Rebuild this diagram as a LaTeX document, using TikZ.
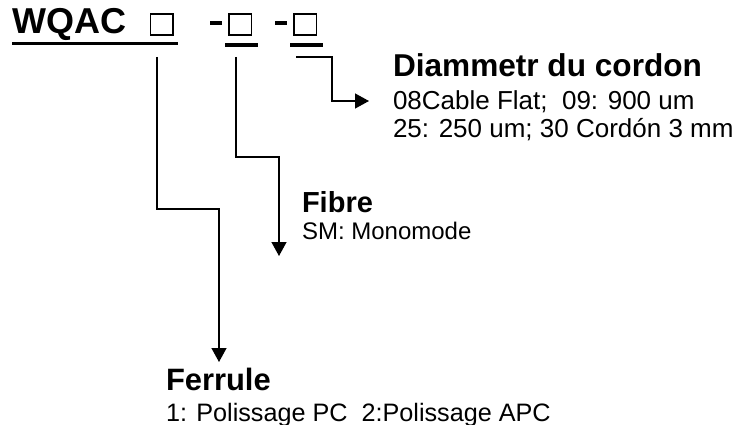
\documentclass[tikz,border=0pt]{standalone}
\usepackage{fontspec}
\setmainfont{Liberation Sans}
\usetikzlibrary{arrows.meta}
\begin{document}
\begin{tikzpicture}[x=1pt,y=-1pt,
  txt/.style={anchor=base west,inner sep=0pt,outer sep=0pt},
  head/.style={txt,font=\fontsize{#1}{36}\selectfont\bfseries},
  body/.style={txt,font=\fontsize{#1}{30}\selectfont},
  title/.style={txt,font=\fontsize{36}{40}\selectfont\bfseries},
  codebox/.style={draw,line width=1.5pt,minimum width=22.5pt,minimum height=21pt,inner sep=0pt},
  bar/.style={line width=3.5pt},
  uline/.style={line width=3.5pt},
  conn/.style={line width=1.3pt},
  tip/.style={-{Triangle[width=15pt,length=14pt]}}]
\useasboundingbox (0,0) rectangle (753,425);
% code
\node[title] (wqac) at (12.5,34) {WQAC};
\node[codebox] (b1) at (161.5,24.5) {};
\node[codebox] (b2) at (240,24.5) {};
\node[codebox] (b3) at (305,24.5) {};
\coordinate (d1a) at (210,23); \coordinate (d1b) at (222,23);
\coordinate (d2a) at (275,23); \coordinate (d2b) at (287,23);
\draw[bar] (d1a) -- (d1b);
\draw[bar] (d2a) -- (d2b);
\coordinate (u1a) at (12,43.5); \coordinate (u1b) at (178,43.5);
\coordinate (u2a) at (225,45); \coordinate (u2b) at (258,45);
\coordinate (u3a) at (290,45); \coordinate (u3b) at (323,45);
\draw[uline] (u1a) -- (u1b);
\draw[uline] (u2a) -- (u2b);
\draw[uline] (u3a) -- (u3b);
% labels
\node[head=31.6] (diam) at (393,77) {Diammetr du cordon};
\node[body=26] (diam1) at (393,110) {08Cable Flat;\ \ 09: 900 um};
\node[body=26] (diam2) at (393,138) {25: 250 um; 30 Cordón 3 mm};
\node[head=29] (fibre) at (302,212) {Fibre};
\node[body=24] (fibre1) at (302,240) {SM: Monomode};
\node[head=30.9] (ferr) at (166,390) {Ferrule};
\node[body=25.2] (ferr1) at (166,421) {1: Polissage PC\ \ 2:Polissage APC};
% connectors
\coordinate (s1) at (157,57); \coordinate (k1) at (219,209); \coordinate (t1) at (219,362);
\coordinate (s2) at (236,57); \coordinate (k2) at (279,157); \coordinate (t2) at (279,256);
\coordinate (s3) at (296,57); \coordinate (k3) at (332,101); \coordinate (t3) at (369,101);
\draw[conn,tip] (s1) |- (k1) -- (t1);
\draw[conn,tip] (s2) |- (k2) -- (t2);
\draw[conn,tip] (s3) -| (k3) -- (t3);
\end{tikzpicture}
\end{document}
